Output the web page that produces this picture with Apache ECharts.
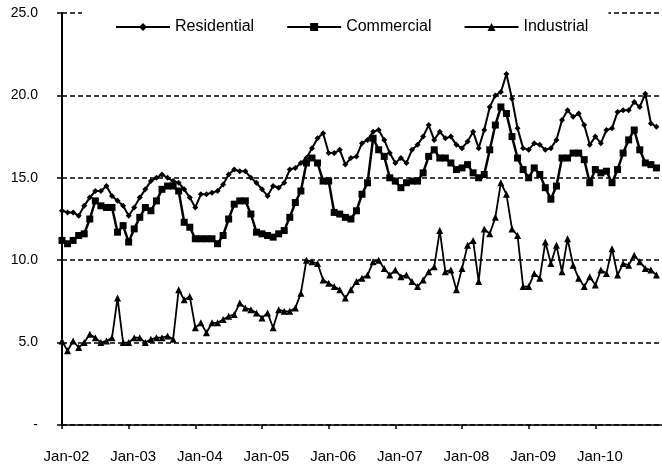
<!DOCTYPE html>
<html>
<head>
<meta charset="utf-8">
<script src="https://cdn.jsdelivr.net/npm/echarts@6/dist/echarts.min.js"></script>
<style>
html,body{margin:0;padding:0;background:#fff;}
#chart{width:662px;height:467px;}
</style>
</head>
<body>
<div id="chart"></div>
<script>
// Tick labels shown on the x axis (one per January)
const yearLabels = ['Jan-02','Jan-03','Jan-04','Jan-05','Jan-06','Jan-07','Jan-08','Jan-09','Jan-10'];
const monthNames = ['Jan','Feb','Mar','Apr','May','Jun','Jul','Aug','Sep','Oct','Nov','Dec'];
const yearSuffixes = ['02','03','04','05','06','07','08','09','10'];

// Monthly values, Jan-02 .. Dec-10
const residential = [
  13.0, 12.9, 12.9, 12.7, 13.3, 13.8, 14.2, 14.2, 14.5, 13.9, 13.6, 13.3,
  12.7, 13.2, 13.8, 14.3, 14.8, 15.0, 15.2, 15.0, 14.8, 14.7, 14.3, 13.8,
  13.2, 14.0, 14.0, 14.1, 14.2, 14.6, 15.2, 15.5, 15.4, 15.4, 15.0, 14.7,
  14.3, 13.9, 14.5, 14.4, 14.7, 15.5, 15.6, 15.9, 16.2, 16.8, 17.4, 17.7,
  16.5, 16.5, 16.7, 15.8, 16.2, 16.3, 17.1, 17.3, 17.8, 17.9, 17.3, 16.5,
  15.9, 16.2, 15.9, 16.7, 17.0, 17.5, 18.2, 17.3, 17.8, 17.4, 17.5, 17.0,
  16.8, 17.2, 17.8, 16.8, 17.9, 19.3, 20.0, 20.2, 21.3, 19.8, 18.0, 16.8,
  16.7, 17.1, 17.0, 16.7, 16.8, 17.3, 18.5, 19.1, 18.7, 18.9, 18.2, 17.0,
  17.5, 17.1, 17.9, 18.0, 19.0, 19.1, 19.1, 19.6, 19.3, 20.1, 18.3, 18.1
];
const commercial = [
  11.2, 11.0, 11.2, 11.5, 11.6, 12.5, 13.6, 13.3, 13.2, 13.2, 11.7, 12.1,
  11.1, 11.9, 12.6, 13.2, 13.0, 13.6, 14.3, 14.5, 14.5, 14.2, 12.3, 12.0,
  11.3, 11.3, 11.3, 11.3, 11.0, 11.5, 12.5, 13.4, 13.6, 13.6, 12.8, 11.7,
  11.6, 11.5, 11.4, 11.6, 11.8, 12.6, 13.5, 14.2, 15.9, 16.2, 15.9, 14.8,
  14.8, 12.9, 12.8, 12.6, 12.5, 13.0, 14.0, 14.7, 17.4, 16.7, 16.3, 15.0,
  14.8, 14.4, 14.7, 14.8, 14.8, 15.3, 16.3, 16.7, 16.2, 16.2, 15.9, 15.5,
  15.6, 15.8, 15.3, 15.0, 15.2, 16.7, 18.2, 19.3, 18.9, 17.5, 16.2, 15.5,
  15.0, 15.6, 15.2, 14.4, 13.7, 14.5, 16.2, 16.2, 16.5, 16.5, 16.1, 14.7,
  15.5, 15.3, 15.4, 14.7, 15.5, 16.5, 17.3, 17.9, 16.7, 15.9, 15.8, 15.6
];
const industrial = [
  5.1, 4.5, 5.1, 4.7, 5.0, 5.5, 5.3, 5.0, 5.1, 5.3, 7.7, 5.0,
  5.0, 5.3, 5.3, 5.0, 5.2, 5.3, 5.3, 5.4, 5.2, 8.2, 7.6, 7.8,
  5.9, 6.2, 5.6, 6.2, 6.2, 6.4, 6.6, 6.7, 7.4, 7.1, 7.0, 6.8,
  6.5, 6.8, 5.9, 7.0, 6.9, 6.9, 7.1, 8.0, 10.0, 9.9, 9.8, 8.8,
  8.6, 8.4, 8.2, 7.7, 8.2, 8.7, 8.9, 9.1, 9.9, 10.0, 9.5, 9.1,
  9.4, 9.0, 9.1, 8.7, 8.4, 8.8, 9.3, 9.6, 11.8, 9.3, 9.4, 8.2,
  9.5, 10.9, 11.2, 8.7, 11.9, 11.6, 12.6, 14.7, 14.0, 11.9, 11.5, 8.4,
  8.4, 9.2, 8.9, 11.1, 9.8, 10.9, 9.3, 11.3, 9.7, 8.9, 8.4, 9.0,
  8.5, 9.4, 9.2, 10.7, 9.1, 9.8, 9.7, 10.3, 9.9, 9.5, 9.4, 9.1
];

// Month categories (plus one trailing slot so the plot reaches the right edge)
const categories = [];
yearSuffixes.forEach(y => monthNames.forEach(m => categories.push(m + '-' + y)));
categories.push('Jan-11');

const isYearTick = (idx) => idx % 12 === 0 && idx < residential.length;

const chart = echarts.init(document.getElementById('chart'), null, {renderer: 'canvas'});
const font = 'Liberation Sans, Arial, sans-serif';

chart.setOption({
  animation: false,
  backgroundColor: '#fff',
  grid: {left: 62, right: 0, top: 13, bottom: 42, containLabel: false},
  legend: {
    data: ['Residential', 'Commercial', 'Industrial'],
    left: 82, top: 2,
    padding: [17, 20, 4, 33],
    backgroundColor: '#fff',
    itemWidth: 54, itemHeight: 10, itemGap: 32,
    textStyle: {fontFamily: font, fontSize: 16, color: '#000'}
  },
  xAxis: {
    type: 'category',
    data: categories,
    boundaryGap: false,
    axisLine: {lineStyle: {color: '#000', width: 1.5}},
    axisTick: {show: true, interval: isYearTick, length: 4, lineStyle: {color: '#000', width: 1.5}},
    axisLabel: {
      interval: isYearTick,
      margin: 24,
      padding: [0, 0, 0, 9],
      fontFamily: font, fontSize: 15, color: '#000',
      formatter: (v) => yearLabels.indexOf(v) >= 0 ? v : ''
    },
    splitLine: {show: false}
  },
  yAxis: {
    type: 'value',
    min: 0, max: 25, interval: 5,
    axisLine: {show: true, lineStyle: {color: '#000', width: 2}},
    axisTick: {show: true, length: 5, lineStyle: {color: '#000', width: 1.5}},
    axisLabel: {
      margin: 24,
      fontFamily: font, fontSize: 14, color: '#000',
      formatter: (v) => v === 0 ? '-' : v.toFixed(1)
    },
    splitLine: {show: true, lineStyle: {color: '#000', width: 1.5, type: [5, 3]}}
  },
  series: [
    {
      name: 'Residential', type: 'line', data: residential,
      symbol: 'diamond', symbolSize: 6, showAllSymbol: true,
      itemStyle: {color: '#000'},
      lineStyle: {color: '#000', width: 2}
    },
    {
      name: 'Commercial', type: 'line', data: commercial,
      symbol: 'rect', symbolSize: 7, showAllSymbol: true,
      itemStyle: {color: '#000'},
      lineStyle: {color: '#000', width: 2.5}
    },
    {
      name: 'Industrial', type: 'line', data: industrial,
      symbol: 'triangle', symbolSize: 7, showAllSymbol: true,
      itemStyle: {color: '#000'},
      lineStyle: {color: '#000', width: 1.8}
    }
  ]
});
</script>
</body>
</html>
